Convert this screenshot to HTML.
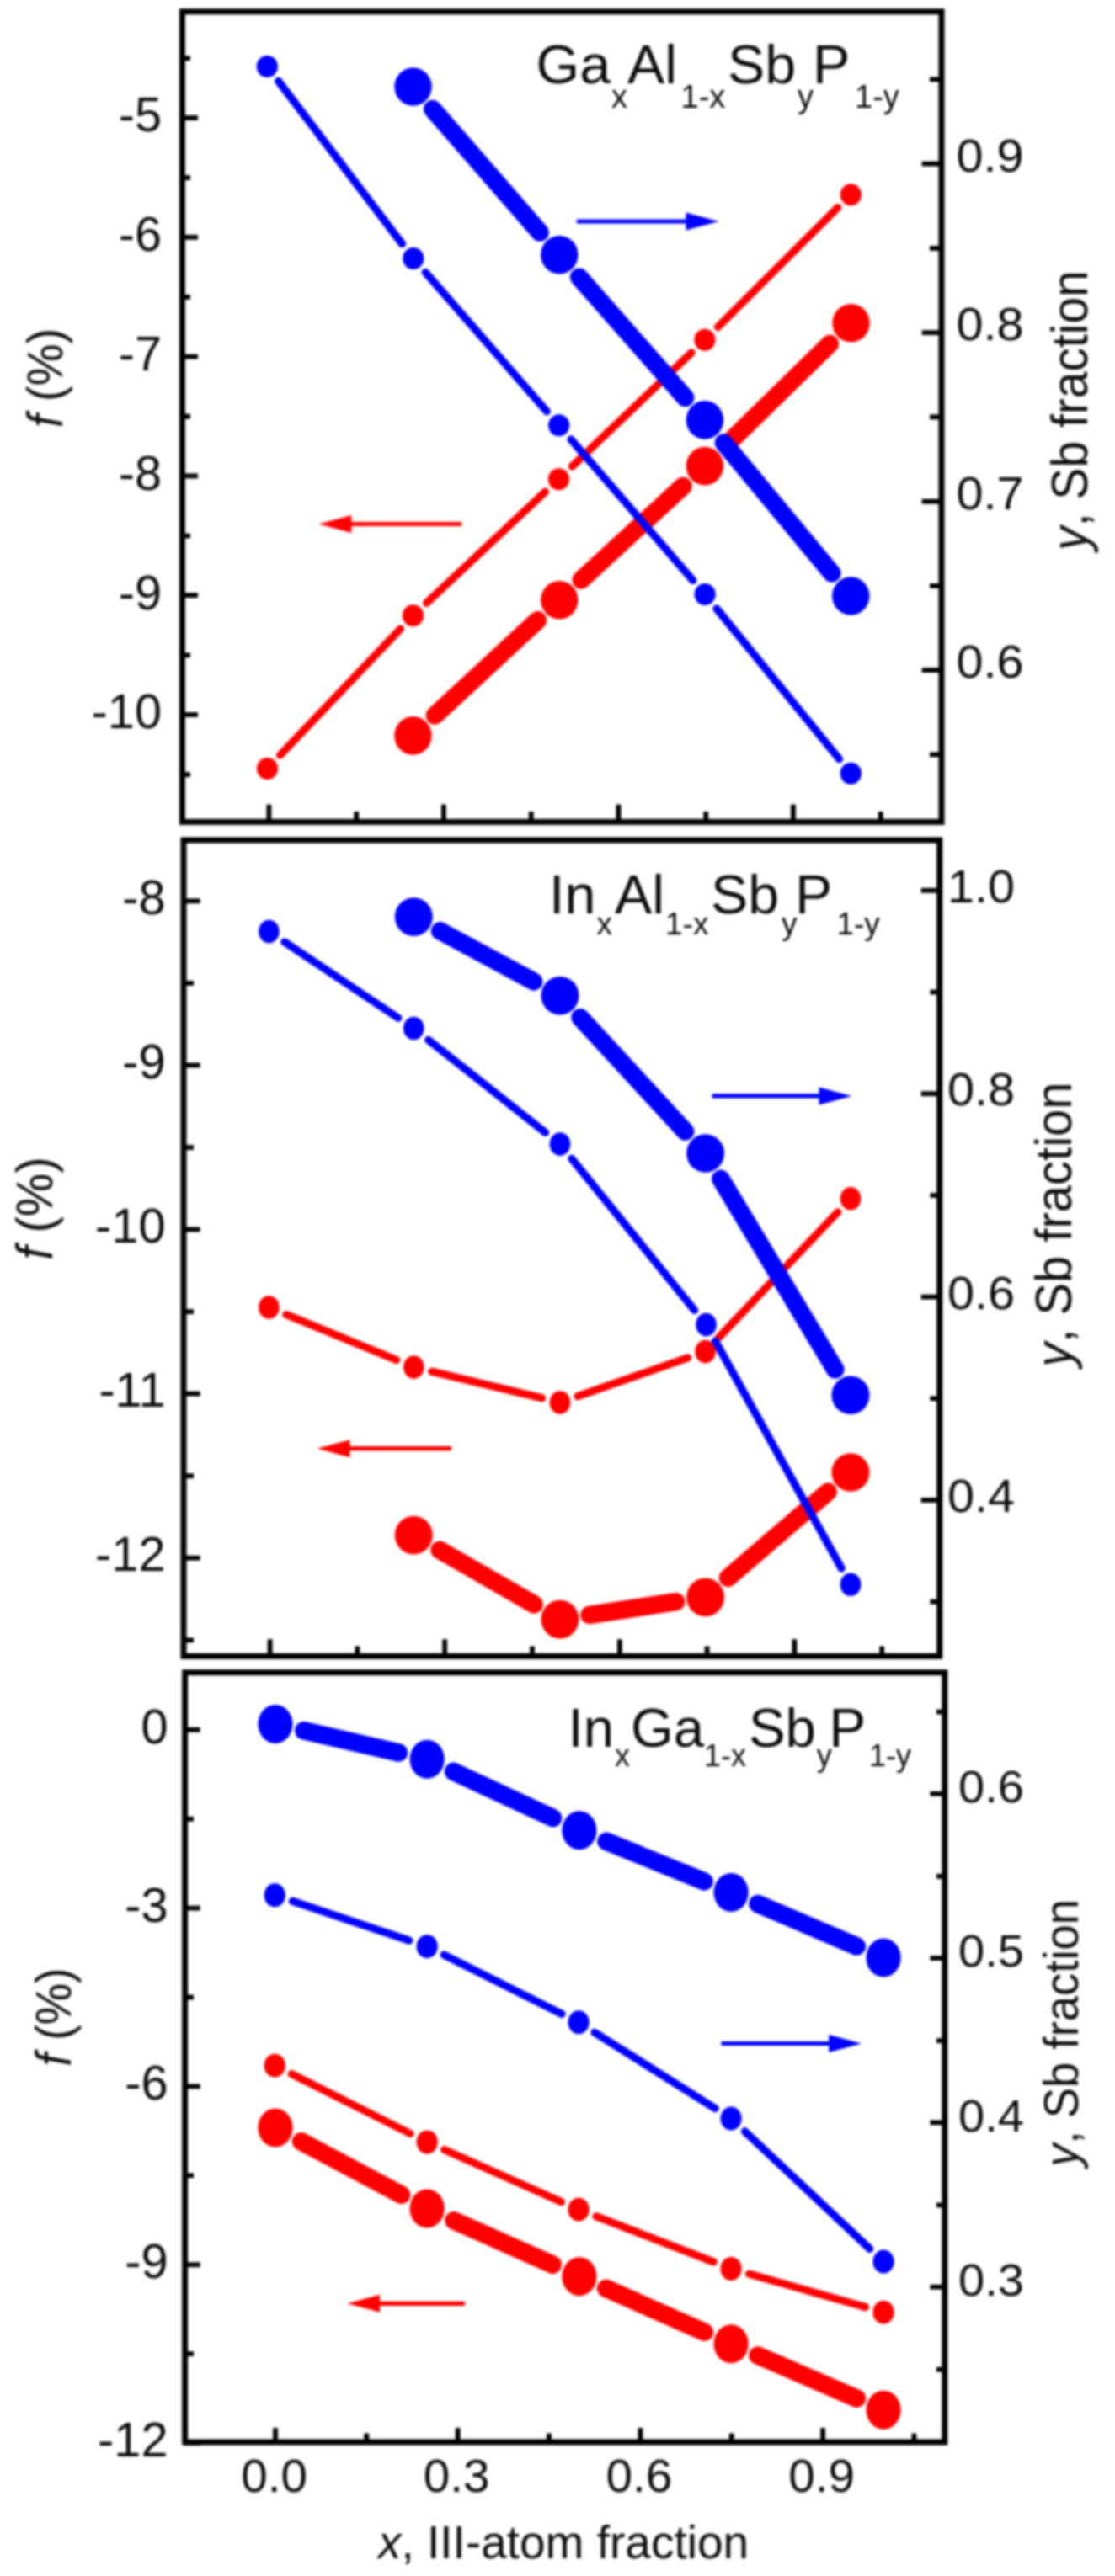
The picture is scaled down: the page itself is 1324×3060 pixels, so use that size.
<!DOCTYPE html>
<html><head><meta charset="utf-8"><title>Lattice mismatch figure</title>
<style>html,body{margin:0;padding:0;background:#fff}svg{display:block;filter:blur(1.4px)}</style></head><body>
<svg width="1324" height="3060" viewBox="0 0 1324 3060">
<rect width="1324" height="3060" fill="#fff"/>
<!-- panel 1 -->
<line x1="332.6" y1="897.1" x2="475.4" y2="747.2" stroke="#ff0000" stroke-width="9.2" stroke-linecap="round"/>
<line x1="506.5" y1="716.3" x2="647.5" y2="584.2" stroke="#ff0000" stroke-width="9.2" stroke-linecap="round"/>
<line x1="679.3" y1="554.1" x2="821.1" y2="418.9" stroke="#ff0000" stroke-width="9.2" stroke-linecap="round"/>
<line x1="852.4" y1="388.4" x2="994.8" y2="246.6" stroke="#ff0000" stroke-width="9.2" stroke-linecap="round"/>
<ellipse cx="317.5" cy="913.0" rx="12.6" ry="13" fill="#ff0000"/>
<ellipse cx="490.5" cy="731.3" rx="12.6" ry="13" fill="#ff0000"/>
<ellipse cx="663.5" cy="569.2" rx="12.6" ry="13" fill="#ff0000"/>
<ellipse cx="836.9" cy="403.8" rx="12.6" ry="13" fill="#ff0000"/>
<ellipse cx="1010.3" cy="231.2" rx="12.6" ry="13" fill="#ff0000"/>
<line x1="516.4" y1="849.9" x2="638.4" y2="736.8" stroke="#ff0000" stroke-width="21.5" stroke-linecap="round"/>
<line x1="690.2" y1="688.9" x2="811.0" y2="577.5" stroke="#ff0000" stroke-width="21.5" stroke-linecap="round"/>
<line x1="862.1" y1="529.0" x2="985.4" y2="408.4" stroke="#ff0000" stroke-width="21.5" stroke-linecap="round"/>
<ellipse cx="490.5" cy="873.9" rx="22.2" ry="22.8" fill="#ff0000"/>
<ellipse cx="664.3" cy="712.8" rx="22.2" ry="22.8" fill="#ff0000"/>
<ellipse cx="836.9" cy="553.6" rx="22.2" ry="22.8" fill="#ff0000"/>
<ellipse cx="1010.6" cy="383.8" rx="22.2" ry="22.8" fill="#ff0000"/>
<line x1="330.6" y1="96.4" x2="477.5" y2="289.6" stroke="#0000ff" stroke-width="9.2" stroke-linecap="round"/>
<line x1="505.2" y1="323.5" x2="649.3" y2="488.8" stroke="#0000ff" stroke-width="9.2" stroke-linecap="round"/>
<line x1="678.0" y1="521.9" x2="822.8" y2="689.4" stroke="#0000ff" stroke-width="9.2" stroke-linecap="round"/>
<line x1="850.9" y1="723.0" x2="996.5" y2="901.7" stroke="#0000ff" stroke-width="9.2" stroke-linecap="round"/>
<ellipse cx="317.3" cy="79.0" rx="12.6" ry="13" fill="#0000ff"/>
<ellipse cx="490.8" cy="307.0" rx="12.6" ry="13" fill="#0000ff"/>
<ellipse cx="663.7" cy="505.3" rx="12.6" ry="13" fill="#0000ff"/>
<ellipse cx="837.1" cy="706.0" rx="12.6" ry="13" fill="#0000ff"/>
<ellipse cx="1010.3" cy="918.7" rx="12.6" ry="13" fill="#0000ff"/>
<line x1="513.7" y1="129.6" x2="641.2" y2="276.1" stroke="#0000ff" stroke-width="21.5" stroke-linecap="round"/>
<line x1="687.6" y1="329.2" x2="813.6" y2="472.4" stroke="#0000ff" stroke-width="21.5" stroke-linecap="round"/>
<line x1="859.4" y1="526.0" x2="987.8" y2="680.9" stroke="#0000ff" stroke-width="21.5" stroke-linecap="round"/>
<ellipse cx="490.6" cy="103.0" rx="22.2" ry="22.8" fill="#0000ff"/>
<ellipse cx="664.3" cy="302.7" rx="22.2" ry="22.8" fill="#0000ff"/>
<ellipse cx="836.9" cy="498.9" rx="22.2" ry="22.8" fill="#0000ff"/>
<ellipse cx="1010.3" cy="708.0" rx="22.2" ry="22.8" fill="#0000ff"/>
<line x1="684.8" y1="263" x2="816.4" y2="263" stroke="#0000ff" stroke-width="5.2"/><polygon points="853.4,263 814.4,252.5 814.4,273.5" fill="#0000ff"/>
<line x1="548.3" y1="622.5" x2="415.4" y2="622.5" stroke="#ff0000" stroke-width="5.2"/><polygon points="378.4,622.5 417.4,612.0 417.4,633.0" fill="#ff0000"/>
<g stroke="#000" stroke-width="5.8"><line x1="216.4" y1="140.0" x2="235" y2="140.0"/>
<line x1="216.4" y1="281.8" x2="235" y2="281.8"/>
<line x1="216.4" y1="423.6" x2="235" y2="423.6"/>
<line x1="216.4" y1="565.4" x2="235" y2="565.4"/>
<line x1="216.4" y1="707.2" x2="235" y2="707.2"/>
<line x1="216.4" y1="849.0" x2="235" y2="849.0"/>
<line x1="216.4" y1="69.3" x2="226" y2="69.3"/>
<line x1="216.4" y1="211.1" x2="226" y2="211.1"/>
<line x1="216.4" y1="352.9" x2="226" y2="352.9"/>
<line x1="216.4" y1="494.7" x2="226" y2="494.7"/>
<line x1="216.4" y1="636.5" x2="226" y2="636.5"/>
<line x1="216.4" y1="778.3" x2="226" y2="778.3"/>
<line x1="216.4" y1="920.1" x2="226" y2="920.1"/>
<line x1="1118" y1="194.6" x2="1094.7" y2="194.6"/>
<line x1="1118" y1="395.1" x2="1094.7" y2="395.1"/>
<line x1="1118" y1="595.6" x2="1094.7" y2="595.6"/>
<line x1="1118" y1="796.1" x2="1094.7" y2="796.1"/>
<line x1="1118" y1="94.4" x2="1104" y2="94.4"/>
<line x1="1118" y1="294.9" x2="1104" y2="294.9"/>
<line x1="1118" y1="495.4" x2="1104" y2="495.4"/>
<line x1="1118" y1="695.9" x2="1104" y2="695.9"/>
<line x1="1118" y1="896.4" x2="1104" y2="896.4"/>
<line x1="319.4" y1="976.4" x2="319.4" y2="955.6"/>
<line x1="526.9" y1="976.4" x2="526.9" y2="955.6"/>
<line x1="734.4" y1="976.4" x2="734.4" y2="955.6"/>
<line x1="941.9" y1="976.4" x2="941.9" y2="955.6"/>
<line x1="423.2" y1="976.4" x2="423.2" y2="964"/>
<line x1="630.7" y1="976.4" x2="630.7" y2="964"/>
<line x1="838.2" y1="976.4" x2="838.2" y2="964"/>
<line x1="1045.7" y1="976.4" x2="1045.7" y2="964"/></g><rect x="216.4" y="13.8" width="901.6" height="962.6" fill="none" stroke="#000" stroke-width="7"/><text transform="translate(192,156.3) scale(0.995,1)" text-anchor="end" font-size="58" font-family="Liberation Sans, Arial, sans-serif" fill="#0c0c0c">-5</text><text transform="translate(192,298.1) scale(0.995,1)" text-anchor="end" font-size="58" font-family="Liberation Sans, Arial, sans-serif" fill="#0c0c0c">-6</text><text transform="translate(192,439.9) scale(0.995,1)" text-anchor="end" font-size="58" font-family="Liberation Sans, Arial, sans-serif" fill="#0c0c0c">-7</text><text transform="translate(192,581.7) scale(0.995,1)" text-anchor="end" font-size="58" font-family="Liberation Sans, Arial, sans-serif" fill="#0c0c0c">-8</text><text transform="translate(192,723.5) scale(0.995,1)" text-anchor="end" font-size="58" font-family="Liberation Sans, Arial, sans-serif" fill="#0c0c0c">-9</text><text transform="translate(192,865.3) scale(0.995,1)" text-anchor="end" font-size="58" font-family="Liberation Sans, Arial, sans-serif" fill="#0c0c0c">-10</text><text transform="translate(1135.5,203.8) scale(1.03,1)" font-size="56" font-family="Liberation Sans, Arial, sans-serif" fill="#0c0c0c">0.9</text><text transform="translate(1135.5,404.3) scale(1.03,1)" font-size="56" font-family="Liberation Sans, Arial, sans-serif" fill="#0c0c0c">0.8</text><text transform="translate(1135.5,604.8) scale(1.03,1)" font-size="56" font-family="Liberation Sans, Arial, sans-serif" fill="#0c0c0c">0.7</text><text transform="translate(1135.5,805.3) scale(1.03,1)" font-size="56" font-family="Liberation Sans, Arial, sans-serif" fill="#0c0c0c">0.6</text>
<text transform="translate(636.6,98.5) scale(1.02,1)" font-size="65" font-family="Liberation Sans, Arial, sans-serif" fill="#0c0c0c">Ga</text>
<text transform="translate(726,127.5) scale(1.0,1)" font-size="38" font-family="Liberation Sans, Arial, sans-serif" fill="#0c0c0c">x</text>
<text transform="translate(745,98.5) scale(1.02,1)" font-size="65" font-family="Liberation Sans, Arial, sans-serif" fill="#0c0c0c">Al</text>
<text transform="translate(808.5,127.5) scale(1.0,1)" font-size="38" font-family="Liberation Sans, Arial, sans-serif" fill="#0c0c0c">1-x</text>
<text transform="translate(864,98.5) scale(1.02,1)" font-size="65" font-family="Liberation Sans, Arial, sans-serif" fill="#0c0c0c">Sb</text>
<text transform="translate(947,127.5) scale(1.0,1)" font-size="38" font-family="Liberation Sans, Arial, sans-serif" fill="#0c0c0c">y</text>
<text transform="translate(965,98.5) scale(1.02,1)" font-size="65" font-family="Liberation Sans, Arial, sans-serif" fill="#0c0c0c">P</text>
<text transform="translate(1015,127.5) scale(1.0,1)" font-size="38" font-family="Liberation Sans, Arial, sans-serif" fill="#0c0c0c">1-y</text>
<text transform="translate(74,449) rotate(-90) scale(1,1.06)" text-anchor="middle" font-size="56" font-family="Liberation Sans, Arial, sans-serif" fill="#0c0c0c"><tspan font-style="italic">f</tspan> (%)</text>
<text transform="translate(1290.5,487.5) rotate(-90) scale(1,1.06)" text-anchor="middle" font-size="57" font-family="Liberation Sans, Arial, sans-serif" fill="#0c0c0c"><tspan font-style="italic">y</tspan>, Sb fraction</text>
<!-- panel 2 -->
<line x1="339.9" y1="1561.5" x2="470.8" y2="1615.6" stroke="#ff0000" stroke-width="9.2" stroke-linecap="round"/>
<line x1="512.8" y1="1629.3" x2="643.5" y2="1660.8" stroke="#ff0000" stroke-width="9.2" stroke-linecap="round"/>
<line x1="685.9" y1="1658.7" x2="816.7" y2="1612.9" stroke="#ff0000" stroke-width="9.2" stroke-linecap="round"/>
<line x1="852.8" y1="1589.5" x2="994.8" y2="1439.8" stroke="#ff0000" stroke-width="9.2" stroke-linecap="round"/>
<ellipse cx="319.4" cy="1553.0" rx="12.3" ry="13.8" fill="#ff0000"/>
<ellipse cx="491.3" cy="1624.1" rx="12.3" ry="13.8" fill="#ff0000"/>
<ellipse cx="665.0" cy="1666.0" rx="12.3" ry="13.8" fill="#ff0000"/>
<ellipse cx="837.6" cy="1605.6" rx="12.3" ry="13.8" fill="#ff0000"/>
<ellipse cx="1010.0" cy="1423.7" rx="12.3" ry="13.8" fill="#ff0000"/>
<line x1="522.0" y1="1841.3" x2="634.3" y2="1905.9" stroke="#ff0000" stroke-width="21.5" stroke-linecap="round"/>
<line x1="700.0" y1="1918.3" x2="802.6" y2="1902.7" stroke="#ff0000" stroke-width="21.5" stroke-linecap="round"/>
<line x1="864.4" y1="1874.3" x2="983.2" y2="1772.1" stroke="#ff0000" stroke-width="21.5" stroke-linecap="round"/>
<ellipse cx="491.3" cy="1823.6" rx="22.5" ry="22.8" fill="#ff0000"/>
<ellipse cx="665.0" cy="1923.6" rx="22.5" ry="22.8" fill="#ff0000"/>
<ellipse cx="837.6" cy="1897.4" rx="22.5" ry="22.8" fill="#ff0000"/>
<ellipse cx="1010.0" cy="1749.0" rx="22.5" ry="22.8" fill="#ff0000"/>
<line x1="337.8" y1="1118.9" x2="472.9" y2="1209.2" stroke="#0000ff" stroke-width="9.2" stroke-linecap="round"/>
<line x1="508.7" y1="1235.3" x2="647.6" y2="1345.3" stroke="#0000ff" stroke-width="9.2" stroke-linecap="round"/>
<line x1="678.9" y1="1376.3" x2="824.6" y2="1556.4" stroke="#0000ff" stroke-width="9.2" stroke-linecap="round"/>
<line x1="849.3" y1="1593.0" x2="999.2" y2="1862.9" stroke="#0000ff" stroke-width="9.2" stroke-linecap="round"/>
<ellipse cx="319.4" cy="1106.6" rx="12.3" ry="13.8" fill="#0000ff"/>
<ellipse cx="491.3" cy="1221.5" rx="12.3" ry="13.8" fill="#0000ff"/>
<ellipse cx="665.0" cy="1359.1" rx="12.3" ry="13.8" fill="#0000ff"/>
<ellipse cx="838.5" cy="1573.6" rx="12.3" ry="13.8" fill="#0000ff"/>
<ellipse cx="1010.0" cy="1882.3" rx="12.3" ry="13.8" fill="#0000ff"/>
<line x1="522.5" y1="1105.9" x2="633.8" y2="1165.9" stroke="#0000ff" stroke-width="21.5" stroke-linecap="round"/>
<line x1="689.0" y1="1208.7" x2="813.6" y2="1344.0" stroke="#0000ff" stroke-width="21.5" stroke-linecap="round"/>
<line x1="855.8" y1="1400.4" x2="991.8" y2="1626.9" stroke="#0000ff" stroke-width="21.5" stroke-linecap="round"/>
<ellipse cx="491.3" cy="1089.1" rx="22.5" ry="22.8" fill="#0000ff"/>
<ellipse cx="665.0" cy="1182.7" rx="22.5" ry="22.8" fill="#0000ff"/>
<ellipse cx="837.6" cy="1370.0" rx="22.5" ry="22.8" fill="#0000ff"/>
<ellipse cx="1010.0" cy="1657.3" rx="22.5" ry="22.8" fill="#0000ff"/>
<line x1="845.6" y1="1301.9" x2="974.5" y2="1301.9" stroke="#0000ff" stroke-width="5.2"/><polygon points="1011.5,1301.9 972.5,1291.4 972.5,1312.4" fill="#0000ff"/>
<line x1="536.1" y1="1720.7" x2="413.5" y2="1720.7" stroke="#ff0000" stroke-width="5.2"/><polygon points="376.5,1720.7 415.5,1710.2 415.5,1731.2" fill="#ff0000"/>
<g stroke="#000" stroke-width="5.8"><line x1="218" y1="1070.3" x2="237.7" y2="1070.3"/>
<line x1="218" y1="1265.4" x2="237.7" y2="1265.4"/>
<line x1="218" y1="1460.5" x2="237.7" y2="1460.5"/>
<line x1="218" y1="1655.6" x2="237.7" y2="1655.6"/>
<line x1="218" y1="1850.7" x2="237.7" y2="1850.7"/>
<line x1="218" y1="1167.9" x2="230" y2="1167.9"/>
<line x1="218" y1="1363.0" x2="230" y2="1363.0"/>
<line x1="218" y1="1558.1" x2="230" y2="1558.1"/>
<line x1="218" y1="1753.2" x2="230" y2="1753.2"/>
<line x1="218" y1="1948.3" x2="230" y2="1948.3"/>
<line x1="1115.7" y1="1057.8" x2="1093.7" y2="1057.8"/>
<line x1="1115.7" y1="1299.2" x2="1093.7" y2="1299.2"/>
<line x1="1115.7" y1="1540.6" x2="1093.7" y2="1540.6"/>
<line x1="1115.7" y1="1782.0" x2="1093.7" y2="1782.0"/>
<line x1="1115.7" y1="1178.5" x2="1104.5" y2="1178.5"/>
<line x1="1115.7" y1="1419.9" x2="1104.5" y2="1419.9"/>
<line x1="1115.7" y1="1661.3" x2="1104.5" y2="1661.3"/>
<line x1="1115.7" y1="1902.7" x2="1104.5" y2="1902.7"/>
<line x1="320.6" y1="1967.3" x2="320.6" y2="1947.2"/>
<line x1="528.2" y1="1967.3" x2="528.2" y2="1947.2"/>
<line x1="735.8" y1="1967.3" x2="735.8" y2="1947.2"/>
<line x1="943.4" y1="1967.3" x2="943.4" y2="1947.2"/>
<line x1="424.4" y1="1967.3" x2="424.4" y2="1955.5"/>
<line x1="632.0" y1="1967.3" x2="632.0" y2="1955.5"/>
<line x1="839.6" y1="1967.3" x2="839.6" y2="1955.5"/>
<line x1="1047.2" y1="1967.3" x2="1047.2" y2="1955.5"/></g><rect x="218" y="998" width="897.7" height="969.3" fill="none" stroke="#000" stroke-width="7"/><text transform="translate(196.5,1085.6) scale(0.995,1)" text-anchor="end" font-size="58" font-family="Liberation Sans, Arial, sans-serif" fill="#0c0c0c">-8</text><text transform="translate(196.5,1280.7) scale(0.995,1)" text-anchor="end" font-size="58" font-family="Liberation Sans, Arial, sans-serif" fill="#0c0c0c">-9</text><text transform="translate(196.5,1475.8) scale(0.995,1)" text-anchor="end" font-size="58" font-family="Liberation Sans, Arial, sans-serif" fill="#0c0c0c">-10</text><text transform="translate(196.5,1670.9) scale(0.995,1)" text-anchor="end" font-size="58" font-family="Liberation Sans, Arial, sans-serif" fill="#0c0c0c">-11</text><text transform="translate(196.5,1866.0) scale(0.995,1)" text-anchor="end" font-size="58" font-family="Liberation Sans, Arial, sans-serif" fill="#0c0c0c">-12</text><text transform="translate(1125,1071.8) scale(1.03,1)" font-size="56" font-family="Liberation Sans, Arial, sans-serif" fill="#0c0c0c">1.0</text><text transform="translate(1125,1313.2) scale(1.03,1)" font-size="56" font-family="Liberation Sans, Arial, sans-serif" fill="#0c0c0c">0.8</text><text transform="translate(1125,1554.6) scale(1.03,1)" font-size="56" font-family="Liberation Sans, Arial, sans-serif" fill="#0c0c0c">0.6</text><text transform="translate(1125,1796.0) scale(1.03,1)" font-size="56" font-family="Liberation Sans, Arial, sans-serif" fill="#0c0c0c">0.4</text>
<text transform="translate(652,1084.5) scale(1.02,1)" font-size="65" font-family="Liberation Sans, Arial, sans-serif" fill="#0c0c0c">In</text>
<text transform="translate(708.5,1109.5) scale(1.0,1)" font-size="37" font-family="Liberation Sans, Arial, sans-serif" fill="#0c0c0c">x</text>
<text transform="translate(730,1084.5) scale(1.02,1)" font-size="65" font-family="Liberation Sans, Arial, sans-serif" fill="#0c0c0c">Al</text>
<text transform="translate(790,1109.5) scale(1.0,1)" font-size="37" font-family="Liberation Sans, Arial, sans-serif" fill="#0c0c0c">1-x</text>
<text transform="translate(844,1084.5) scale(1.02,1)" font-size="65" font-family="Liberation Sans, Arial, sans-serif" fill="#0c0c0c">Sb</text>
<text transform="translate(928,1109.5) scale(1.0,1)" font-size="37" font-family="Liberation Sans, Arial, sans-serif" fill="#0c0c0c">y</text>
<text transform="translate(944,1084.5) scale(1.02,1)" font-size="65" font-family="Liberation Sans, Arial, sans-serif" fill="#0c0c0c">P</text>
<text transform="translate(993.4,1109.5) scale(1.0,1)" font-size="37" font-family="Liberation Sans, Arial, sans-serif" fill="#0c0c0c">1-y</text>
<text transform="translate(62,1435.5) rotate(-90) scale(1,1.06)" text-anchor="middle" font-size="58" font-family="Liberation Sans, Arial, sans-serif" fill="#0c0c0c"><tspan font-style="italic">f</tspan> (%)</text>
<text transform="translate(1272,1454.6) rotate(-90) scale(1,1.06)" text-anchor="middle" font-size="58" font-family="Liberation Sans, Arial, sans-serif" fill="#0c0c0c"><tspan font-style="italic">y</tspan>, Sb fraction</text>
<!-- panel 3 -->
<line x1="346.3" y1="2463.7" x2="487.2" y2="2534.5" stroke="#ff0000" stroke-width="9.2" stroke-linecap="round"/>
<line x1="527.7" y1="2553.6" x2="666.6" y2="2615.6" stroke="#ff0000" stroke-width="9.2" stroke-linecap="round"/>
<line x1="708.0" y1="2632.8" x2="847.2" y2="2686.9" stroke="#ff0000" stroke-width="9.2" stroke-linecap="round"/>
<line x1="889.6" y1="2701.2" x2="1027.6" y2="2740.5" stroke="#ff0000" stroke-width="9.2" stroke-linecap="round"/>
<ellipse cx="326.3" cy="2453.7" rx="12.6" ry="14" fill="#ff0000"/>
<ellipse cx="507.2" cy="2544.5" rx="12.6" ry="14" fill="#ff0000"/>
<ellipse cx="687.1" cy="2624.7" rx="12.6" ry="14" fill="#ff0000"/>
<ellipse cx="868.1" cy="2695.0" rx="12.6" ry="14" fill="#ff0000"/>
<ellipse cx="1049.1" cy="2746.7" rx="12.6" ry="14" fill="#ff0000"/>
<line x1="357.5" y1="2543.7" x2="476.7" y2="2607.3" stroke="#ff0000" stroke-width="21.5" stroke-linecap="round"/>
<line x1="538.8" y1="2637.7" x2="656.3" y2="2690.1" stroke="#ff0000" stroke-width="21.5" stroke-linecap="round"/>
<line x1="719.5" y1="2718.2" x2="836.5" y2="2770.3" stroke="#ff0000" stroke-width="21.5" stroke-linecap="round"/>
<line x1="899.8" y1="2798.0" x2="1017.4" y2="2849.1" stroke="#ff0000" stroke-width="21.5" stroke-linecap="round"/>
<ellipse cx="327.0" cy="2527.4" rx="20.6" ry="23" fill="#ff0000"/>
<ellipse cx="507.2" cy="2623.6" rx="20.6" ry="23" fill="#ff0000"/>
<ellipse cx="687.9" cy="2704.2" rx="20.6" ry="23" fill="#ff0000"/>
<ellipse cx="868.1" cy="2784.3" rx="20.6" ry="23" fill="#ff0000"/>
<ellipse cx="1049.1" cy="2862.8" rx="20.6" ry="23" fill="#ff0000"/>
<line x1="347.5" y1="2258.4" x2="486.0" y2="2305.1" stroke="#0000ff" stroke-width="9.2" stroke-linecap="round"/>
<line x1="527.2" y1="2322.2" x2="667.1" y2="2392.3" stroke="#0000ff" stroke-width="9.2" stroke-linecap="round"/>
<line x1="706.0" y1="2414.3" x2="849.2" y2="2504.6" stroke="#0000ff" stroke-width="9.2" stroke-linecap="round"/>
<line x1="884.4" y1="2531.9" x2="1032.8" y2="2671.3" stroke="#0000ff" stroke-width="9.2" stroke-linecap="round"/>
<ellipse cx="326.3" cy="2251.3" rx="12.6" ry="14" fill="#0000ff"/>
<ellipse cx="507.2" cy="2312.2" rx="12.6" ry="14" fill="#0000ff"/>
<ellipse cx="687.1" cy="2402.3" rx="12.6" ry="14" fill="#0000ff"/>
<ellipse cx="868.1" cy="2516.6" rx="12.6" ry="14" fill="#0000ff"/>
<ellipse cx="1049.1" cy="2686.6" rx="12.6" ry="14" fill="#0000ff"/>
<line x1="360.7" y1="2055.8" x2="473.5" y2="2082.0" stroke="#0000ff" stroke-width="21.5" stroke-linecap="round"/>
<line x1="538.5" y1="2104.4" x2="656.6" y2="2159.6" stroke="#0000ff" stroke-width="21.5" stroke-linecap="round"/>
<line x1="719.9" y1="2187.3" x2="836.1" y2="2234.9" stroke="#0000ff" stroke-width="21.5" stroke-linecap="round"/>
<line x1="899.9" y1="2261.6" x2="1017.3" y2="2312.0" stroke="#0000ff" stroke-width="21.5" stroke-linecap="round"/>
<ellipse cx="327.0" cy="2048.0" rx="20.6" ry="23" fill="#0000ff"/>
<ellipse cx="507.2" cy="2089.8" rx="20.6" ry="23" fill="#0000ff"/>
<ellipse cx="687.9" cy="2174.2" rx="20.6" ry="23" fill="#0000ff"/>
<ellipse cx="868.1" cy="2248.0" rx="20.6" ry="23" fill="#0000ff"/>
<ellipse cx="1049.1" cy="2325.6" rx="20.6" ry="23" fill="#0000ff"/>
<line x1="856.4" y1="2427.5" x2="986.2" y2="2427.5" stroke="#0000ff" stroke-width="5.2"/><polygon points="1023.2,2427.5 984.2,2417.0 984.2,2438.0" fill="#0000ff"/>
<line x1="552.1" y1="2736.3" x2="449.2" y2="2736.3" stroke="#ff0000" stroke-width="5.2"/><polygon points="412.2,2736.3 451.2,2725.8 451.2,2746.8" fill="#ff0000"/>
<g stroke="#000" stroke-width="5.8"><line x1="219.6" y1="2054.8" x2="237.7" y2="2054.8"/>
<line x1="219.6" y1="2266.6" x2="237.7" y2="2266.6"/>
<line x1="219.6" y1="2478.4" x2="237.7" y2="2478.4"/>
<line x1="219.6" y1="2690.2" x2="237.7" y2="2690.2"/>
<line x1="219.6" y1="2902.0" x2="237.7" y2="2902.0"/>
<line x1="219.6" y1="2160.7" x2="230" y2="2160.7"/>
<line x1="219.6" y1="2372.5" x2="230" y2="2372.5"/>
<line x1="219.6" y1="2584.3" x2="230" y2="2584.3"/>
<line x1="219.6" y1="2796.1" x2="230" y2="2796.1"/>
<line x1="1121.8" y1="2130.8" x2="1104.5" y2="2130.8"/>
<line x1="1121.8" y1="2326.1" x2="1104.5" y2="2326.1"/>
<line x1="1121.8" y1="2521.4" x2="1104.5" y2="2521.4"/>
<line x1="1121.8" y1="2716.7" x2="1104.5" y2="2716.7"/>
<line x1="1121.8" y1="2033.5" x2="1112" y2="2033.5"/>
<line x1="1121.8" y1="2228.8" x2="1112" y2="2228.8"/>
<line x1="1121.8" y1="2424.1" x2="1112" y2="2424.1"/>
<line x1="1121.8" y1="2619.4" x2="1112" y2="2619.4"/>
<line x1="1121.8" y1="2814.7" x2="1112" y2="2814.7"/>
<line x1="327.0" y1="2901" x2="327.0" y2="2884"/>
<line x1="543.7" y1="2901" x2="543.7" y2="2884"/>
<line x1="760.4" y1="2901" x2="760.4" y2="2884"/>
<line x1="977.1" y1="2901" x2="977.1" y2="2884"/>
<line x1="435.3" y1="2901" x2="435.3" y2="2890.5"/>
<line x1="652.0" y1="2901" x2="652.0" y2="2890.5"/>
<line x1="868.7" y1="2901" x2="868.7" y2="2890.5"/>
<line x1="1085.4" y1="2901" x2="1085.4" y2="2890.5"/></g><rect x="219.6" y="1986.7" width="902.1999999999999" height="914.3" fill="none" stroke="#000" stroke-width="7"/><text transform="translate(199.5,2070.8) scale(0.995,1)" text-anchor="end" font-size="58" font-family="Liberation Sans, Arial, sans-serif" fill="#0c0c0c">0</text><text transform="translate(199.5,2282.6) scale(0.995,1)" text-anchor="end" font-size="58" font-family="Liberation Sans, Arial, sans-serif" fill="#0c0c0c">-3</text><text transform="translate(199.5,2494.4) scale(0.995,1)" text-anchor="end" font-size="58" font-family="Liberation Sans, Arial, sans-serif" fill="#0c0c0c">-6</text><text transform="translate(199.5,2706.2) scale(0.995,1)" text-anchor="end" font-size="58" font-family="Liberation Sans, Arial, sans-serif" fill="#0c0c0c">-9</text><text transform="translate(199.5,2918.0) scale(0.995,1)" text-anchor="end" font-size="58" font-family="Liberation Sans, Arial, sans-serif" fill="#0c0c0c">-12</text><text transform="translate(1138,2140.9) scale(1.03,1)" font-size="54.5" font-family="Liberation Sans, Arial, sans-serif" fill="#0c0c0c">0.6</text><text transform="translate(1138,2336.2) scale(1.03,1)" font-size="54.5" font-family="Liberation Sans, Arial, sans-serif" fill="#0c0c0c">0.5</text><text transform="translate(1138,2531.5) scale(1.03,1)" font-size="54.5" font-family="Liberation Sans, Arial, sans-serif" fill="#0c0c0c">0.4</text><text transform="translate(1138,2726.8) scale(1.03,1)" font-size="54.5" font-family="Liberation Sans, Arial, sans-serif" fill="#0c0c0c">0.3</text>
<text transform="translate(674.5,2074.5) scale(1.02,1)" font-size="64" font-family="Liberation Sans, Arial, sans-serif" fill="#0c0c0c">In</text>
<text transform="translate(730,2098.0) scale(1.0,1)" font-size="36" font-family="Liberation Sans, Arial, sans-serif" fill="#0c0c0c">x</text>
<text transform="translate(749,2074.5) scale(1.02,1)" font-size="64" font-family="Liberation Sans, Arial, sans-serif" fill="#0c0c0c">Ga</text>
<text transform="translate(836,2098.0) scale(1.0,1)" font-size="36" font-family="Liberation Sans, Arial, sans-serif" fill="#0c0c0c">1-x</text>
<text transform="translate(889,2074.5) scale(1.02,1)" font-size="64" font-family="Liberation Sans, Arial, sans-serif" fill="#0c0c0c">Sb</text>
<text transform="translate(969.8,2098.0) scale(1.0,1)" font-size="36" font-family="Liberation Sans, Arial, sans-serif" fill="#0c0c0c">y</text>
<text transform="translate(984.5,2074.5) scale(1.02,1)" font-size="64" font-family="Liberation Sans, Arial, sans-serif" fill="#0c0c0c">P</text>
<text transform="translate(1032,2098.0) scale(1.0,1)" font-size="36" font-family="Liberation Sans, Arial, sans-serif" fill="#0c0c0c">1-y</text>
<text transform="translate(84,2396) rotate(-90) scale(1,1.06)" text-anchor="middle" font-size="55.5" font-family="Liberation Sans, Arial, sans-serif" fill="#0c0c0c"><tspan font-style="italic">f</tspan> (%)</text>
<text transform="translate(1279.5,2414.8) rotate(-90) scale(1,1.06)" text-anchor="middle" font-size="54.5" font-family="Liberation Sans, Arial, sans-serif" fill="#0c0c0c"><tspan font-style="italic">y</tspan>, Sb fraction</text>
<text transform="translate(325.5,2960) scale(1.03,1)" text-anchor="middle" font-size="55" font-family="Liberation Sans, Arial, sans-serif" fill="#0c0c0c">0.0</text>
<text transform="translate(542.2,2960) scale(1.03,1)" text-anchor="middle" font-size="55" font-family="Liberation Sans, Arial, sans-serif" fill="#0c0c0c">0.3</text>
<text transform="translate(758.9,2960) scale(1.03,1)" text-anchor="middle" font-size="55" font-family="Liberation Sans, Arial, sans-serif" fill="#0c0c0c">0.6</text>
<text transform="translate(975.6,2960) scale(1.03,1)" text-anchor="middle" font-size="55" font-family="Liberation Sans, Arial, sans-serif" fill="#0c0c0c">0.9</text>
<text x="669" y="3038.5" text-anchor="middle" font-size="55" font-family="Liberation Sans, Arial, sans-serif" fill="#0c0c0c"><tspan font-style="italic">x</tspan>, III-atom fraction</text>
</svg></body></html>
